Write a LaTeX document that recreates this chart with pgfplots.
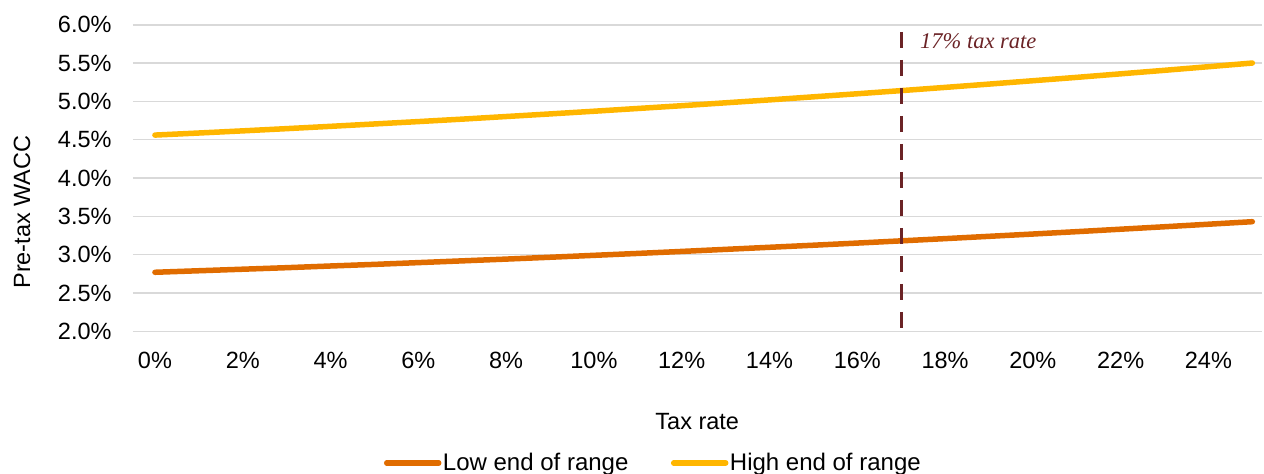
\documentclass[border=0pt]{standalone}
\usepackage{fontspec}
\setmainfont{Liberation Sans}
\newfontfamily\serifit{Liberation Serif}
\usepackage{pgfplots}
\pgfplotsset{compat=1.18}
\definecolor{lowc}{RGB}{224,108,0}
\definecolor{highc}{RGB}{255,182,0}
\definecolor{taxc}{RGB}{107,35,38}
\definecolor{gridc}{RGB}{217,217,217}
\begin{document}
\begin{tikzpicture}
\begin{axis}[
  scale only axis,
  width=1129pt, height=306.6pt,
  xmin=-0.5, xmax=25.22,
  ymin=2, ymax=6,
  xtick={0,2,...,24},
  ytick={2,2.5,...,6},
  ymajorgrids,
  grid style={gridc, line width=1.6pt},
  axis line style={draw=none},
  major tick style={draw=none},
  minor tick style={draw=none},
  /pgf/number format/assume math mode=true,
  every tick label/.append style={font=\fontsize{23.5}{28}\selectfont},
  xticklabel={\pgfmathprintnumber[fixed,precision=0]{\tick}\%},
  yticklabel={\pgfmathprintnumber[fixed,fixed zerofill,precision=1]{\tick}\%},
  xticklabel style={anchor=base, inner sep=0pt, yshift=-37pt},
  yticklabel style={anchor=east, inner sep=0pt, xshift=-21.3pt},
  xlabel={Tax rate},
  ylabel={Pre-tax WACC},
  label style={font=\fontsize{23.5}{28}\selectfont},
  xlabel style={at={(axis description cs:0.4998,-0.3219)}, anchor=base, inner sep=0pt},
  ylabel style={at={(axis description cs:-0.0912,0.389)}, anchor=base, inner sep=0pt},
  legend columns=2,
  legend style={at={(axis description cs:0.2223,-0.4295)}, anchor=west,
    draw=none, fill=none, inner sep=0pt, outer sep=0pt,
    font=\fontsize{24}{28}\selectfont,
    nodes={inner sep=1.5pt},
    /tikz/every even column/.append style={column sep=41pt}},
  legend image code/.code={\draw[line width=5.5pt, line cap=round] (2.5pt,0pt) -- (54.5pt,0pt);},
  clip=false,
]
\addplot[lowc, line width=5.5pt, line cap=round, line join=round] coordinates {
(0,2.770) (1,2.790) (2,2.810) (3,2.830) (4,2.852) (5,2.873) (6,2.896) (7,2.919)
(8,2.942) (9,2.966) (10,2.991) (11,3.016) (12,3.042) (13,3.069) (14,3.096)
(15,3.123) (16,3.151) (17,3.180) (18,3.209) (19,3.239) (20,3.269) (21,3.300)
(22,3.332) (23,3.364) (24,3.397) (25,3.430)};
\addlegendentry{Low end of range}
\addplot[highc, line width=5.5pt, line cap=round, line join=round] coordinates {
(0,4.560) (1,4.587) (2,4.615) (3,4.644) (4,4.674) (5,4.705) (6,4.736) (7,4.768)
(8,4.802) (9,4.836) (10,4.871) (11,4.907) (12,4.943) (13,4.981) (14,5.019)
(15,5.059) (16,5.099) (17,5.140) (18,5.182) (19,5.225) (20,5.269) (21,5.313)
(22,5.359) (23,5.405) (24,5.452) (25,5.500)};
\addlegendentry{High end of range}
\addplot[taxc, line width=3pt, dash pattern=on 16pt off 12pt, forget plot] coordinates {(17,5.905) (17,2.04)};
\node[anchor=base west, inner sep=0pt, text=taxc, font=\fontsize{22.5}{26}\serifit\itshape] at (axis cs:17.43,5.683) {17\% tax rate};
\end{axis}
\pgfresetboundingbox
\useasboundingbox (-133pt,-142.7pt) rectangle (1131pt,331.3pt);
\end{tikzpicture}
\end{document}
